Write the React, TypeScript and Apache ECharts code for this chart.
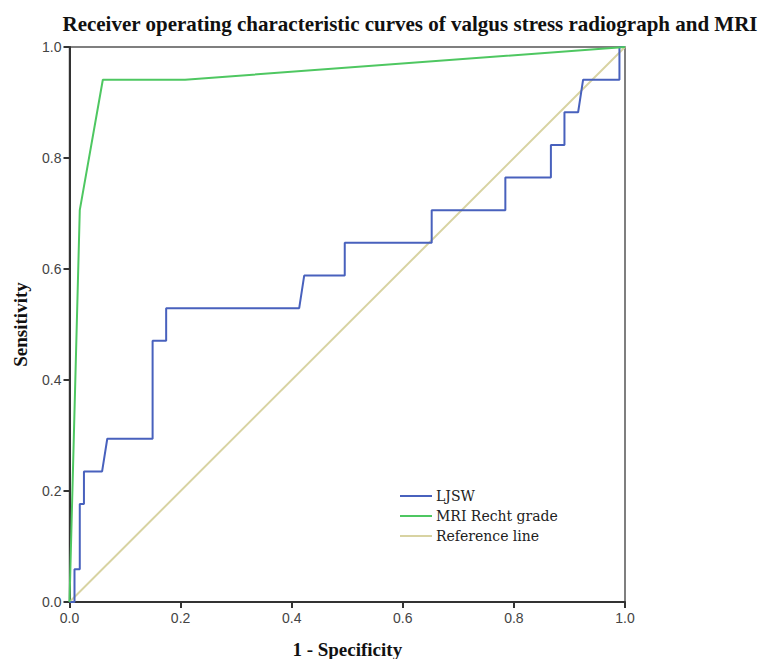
import React, { useEffect, useRef } from "react";
import * as echarts from "echarts";

const titleText = "Receiver operating characteristic curves of valgus stress radiograph and MRI";
const xAxisName = "1 - Specificity";
const yAxisName = "Sensitivity";
const seriesNames = ["LJSW", "MRI Recht grade", "Reference line"];

// LJSW ROC points [1 - specificity, sensitivity]
const ljswX = [0, 0.009, 0.009, 0.0185, 0.0185, 0.026, 0.026, 0.0587, 0.068, 0.1496, 0.1496, 0.174, 0.174, 0.4135, 0.4225, 0.4955, 0.4955, 0.652, 0.652, 0.7846, 0.7846, 0.8666, 0.8666, 0.891, 0.891, 0.9156, 0.9246, 0.99, 0.99, 1.0];
const ljswY = [0, 0, 0.0588, 0.0588, 0.1765, 0.1765, 0.2353, 0.2353, 0.2941, 0.2941, 0.4706, 0.4706, 0.5294, 0.5294, 0.5882, 0.5882, 0.6471, 0.6471, 0.7059, 0.7059, 0.7647, 0.7647, 0.8235, 0.8235, 0.8824, 0.8824, 0.9412, 0.9412, 1.0, 1.0];

// MRI Recht grade ROC points
const mriX = [0, 0.0185, 0.06, 0.208, 1.0];
const mriY = [0, 0.706, 0.941, 0.941, 1.0];

// Reference diagonal
const refX = [0, 1];
const refY = [0, 1];

const xTicks = [0, 0.2, 0.4, 0.6, 0.8, 1.0];

const zip = (xs: number[], ys: number[]) => xs.map((x, i) => [x, ys[i]]);

export default function App() {
  const ref = useRef<HTMLDivElement>(null);
  useEffect(() => {
    if (!ref.current) return;
    const chart = echarts.init(ref.current, null, { renderer: "svg" });
    const tickLabel = { color: "#444", fontFamily: "Liberation Sans, Arial, sans-serif", fontSize: 14 };
    chart.setOption({
      animation: false,
      backgroundColor: "#fff",
      title: {
        text: titleText,
        left: 405,
        textAlign: "center",
        top: 8,
        textStyle: { fontFamily: "Liberation Serif, Times New Roman, serif", fontWeight: "bold", fontSize: 21, color: "#111" },
      },
      grid: {
        left: 69.5,
        right: 146,
        top: 47,
        bottom: 57,
        containLabel: false,
        outerBoundsMode: "none",
        show: true,
        borderColor: "#555",
        borderWidth: 1.5,
        backgroundColor: "#fff",
      },
      legend: {
        orient: "vertical",
        left: 395,
        top: 484,
        itemWidth: 32,
        itemHeight: 2,
        itemGap: 6,
        icon: "rect",
        data: seriesNames,
        textStyle: { fontFamily: "DejaVu Serif, serif", fontSize: 14, color: "#222", padding: [0, 0, 0, -1] },
      },
      xAxis: {
        type: "value",
        min: xTicks[0],
        max: xTicks[xTicks.length - 1],
        interval: 0.2,
        name: xAxisName,
        nameLocation: "middle",
        nameGap: 38,
        nameTextStyle: { fontFamily: "Liberation Serif, Times New Roman, serif", fontWeight: "bold", fontSize: 19, color: "#111" },
        axisLine: { lineStyle: { color: "#333", width: 2 } },
        axisTick: { show: true, length: 6, lineStyle: { color: "#333", width: 2 } },
        axisLabel: { ...tickLabel, margin: 9, formatter: (v: number) => v.toFixed(1) },
        splitLine: { show: false },
      },
      yAxis: {
        type: "value",
        min: 0,
        max: 1,
        interval: 0.2,
        name: yAxisName,
        nameLocation: "middle",
        nameGap: 40,
        nameTextStyle: { fontFamily: "Liberation Serif, Times New Roman, serif", fontWeight: "bold", fontSize: 19, color: "#111" },
        axisLine: { show: true, lineStyle: { color: "#333", width: 2 } },
        axisTick: { show: true, length: 6, lineStyle: { color: "#333", width: 2 } },
        axisLabel: { ...tickLabel, margin: 8, formatter: (v: number) => v.toFixed(1) },
        splitLine: { show: false },
      },
      series: [
        {
          name: seriesNames[2],
          type: "line",
          data: zip(refX, refY),
          symbol: "none",
          lineStyle: { color: "#d8d3a2", width: 2 },
          itemStyle: { color: "#d8d3a2" },
          z: 1,
        },
        {
          name: seriesNames[0],
          type: "line",
          data: zip(ljswX, ljswY),
          symbol: "none",
          lineStyle: { color: "#4861bd", width: 2 },
          itemStyle: { color: "#4861bd" },
          z: 2,
        },
        {
          name: seriesNames[1],
          type: "line",
          data: zip(mriX, mriY),
          symbol: "none",
          lineStyle: { color: "#4ec761", width: 2 },
          itemStyle: { color: "#4ec761" },
          z: 3,
        },
      ],
    });
    return () => chart.dispose();
  }, []);
  return <div ref={ref} style={{ position: "fixed", left: 0, top: 0, width: 771, height: 659 }} />;
}
